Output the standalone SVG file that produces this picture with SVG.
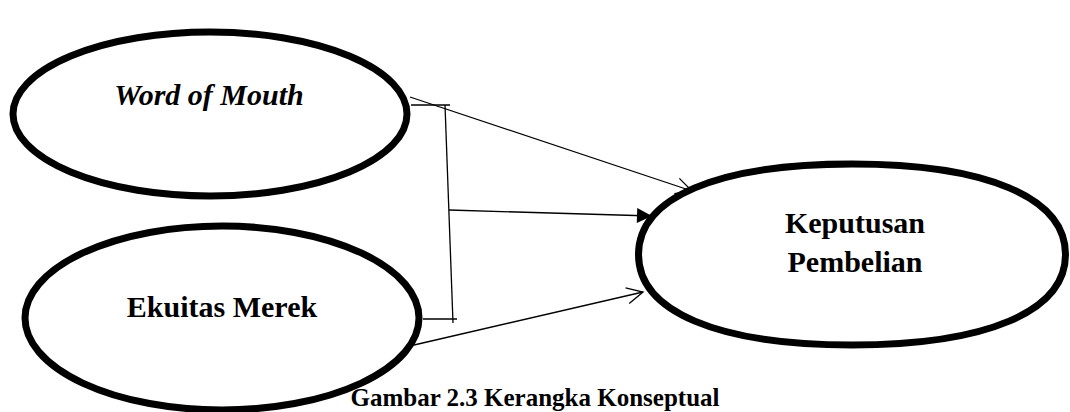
<svg xmlns="http://www.w3.org/2000/svg" width="1070" height="412" viewBox="0 0 1070 412">
<style>
.node{fill:#fff;stroke:#000;stroke-width:7}
.lbl{font-family:"Liberation Serif","Times New Roman",serif;font-weight:bold;font-size:30px;fill:#000;text-anchor:middle}
.con{stroke:#000;stroke-width:1.3;fill:none}
</style>
<defs>
<marker id="open" markerUnits="userSpaceOnUse" markerWidth="40" markerHeight="40" viewBox="-20 -20 40 40" refX="0" refY="0" orient="auto">
<path d="M-16,-8 L0,0 L-16,8" fill="none" stroke="#000" stroke-width="1.3"/>
</marker>
<marker id="solid" markerUnits="userSpaceOnUse" markerWidth="40" markerHeight="40" viewBox="-20 -20 40 40" refX="0" refY="0" orient="auto">
<path d="M-15,-7.5 L0,0 L-15,7.5 Z" fill="#000"/>
</marker>
</defs>
<rect width="1070" height="412" fill="#fff"/>
<g id="connectors">
<line class="con" x1="410" y1="97" x2="692" y2="191" marker-end="url(#open)"/>
<line class="con" x1="411" y1="105" x2="450" y2="105"/>
<line class="con" x1="445" y1="105" x2="453" y2="323"/>
<line class="con" x1="423" y1="319" x2="457" y2="319"/>
<line class="con" x1="449" y1="210" x2="652" y2="216" marker-end="url(#solid)"/>
<line class="con" x1="414" y1="345" x2="643" y2="292" marker-end="url(#open)"/>
</g>
<g id="word-of-mouth">
<ellipse class="node" cx="210" cy="114" rx="197" ry="82"/>
<text class="lbl" x="209" y="105" font-style="italic">Word of Mouth</text>
</g>
<g id="ekuitas-merek">
<ellipse class="node" cx="222" cy="318" rx="197" ry="92"/>
<text class="lbl" x="222" y="317">Ekuitas Merek</text>
</g>
<g id="keputusan-pembelian">
<path class="node" d="M1065.5,254.5 C1065.5,311.5 986.5,345 852,345 C717.5,345 638.5,311.5 638.5,254.5 C638.5,197.5 717.5,164 852,164 C986.5,164 1065.5,197.5 1065.5,254.5 Z"/>
<text class="lbl" x="855" y="233">Keputusan</text>
<text class="lbl" x="855" y="272">Pembelian</text>
</g>
<text id="caption" class="lbl" x="535" y="406" style="font-size:25px">Gambar 2.3 Kerangka Konseptual</text>
</svg>
